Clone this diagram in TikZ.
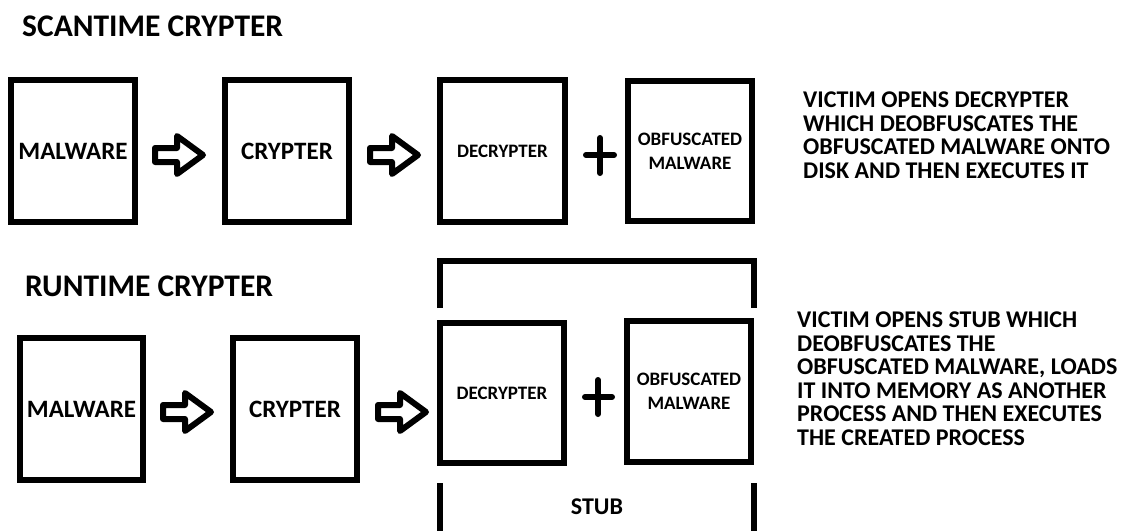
\documentclass[tikz,border=0pt]{standalone}
\usepackage{fontspec}
\setmainfont{Carlito}
\usetikzlibrary{calc}
\begin{document}
\begin{tikzpicture}[x=1pt,y=-1pt,
  box/.style={draw, line width=6pt, inner sep=0pt, font=\bfseries\fontsize{25}{30}\selectfont, align=center},
  smallbox/.style={box, font=\bfseries\fontsize{19}{24}\selectfont},
  title/.style={anchor=north west, inner sep=0pt, font=\bfseries\fontsize{31.5}{36}\selectfont},
  note/.style={anchor=north west, inner sep=0pt, align=left, font=\bfseries\fontsize{24}{23.5}\selectfont},
  heavy/.style={line width=6pt, line cap=round},
  bracket/.style={line width=5.5pt},
  blockarrow/.pic={\draw[line width=6pt, line join=round] (0,-7) -- (22,-7) -- (22,-19) -- (48,0) -- (22,19) -- (22,7) -- (0,7) -- cycle;}
]
\useasboundingbox[fill=white] (0,0) rectangle (1140,531);

% ---- Scantime row ----
\node[title] (t1) at (22,16) {SCANTIME CRYPTER};
\node[box, minimum width=124pt, minimum height=142pt] (m1) at (73,151) {MALWARE};
\node[box, minimum width=124pt, minimum height=142pt] (c1) at (287,151) {CRYPTER};
\node[smallbox, minimum width=125pt, minimum height=142pt] (d1) at (502.5,151) {DECRYPTER};
\node[smallbox, minimum width=124pt, minimum height=140pt] (o1) at (690,151) {OBFUSCATED\\MALWARE};
\pic at (155,155) {blockarrow};
\pic at (370,155) {blockarrow};
\draw[heavy] (586,155) -- (614,155) (600,138) -- (600,173);
\node[note] (n1) at (803,92) {VICTIM OPENS DECRYPTER\\WHICH DEOBFUSCATES THE\\OBFUSCATED MALWARE ONTO\\DISK AND THEN EXECUTES IT};

% ---- Runtime row ----
\node[title] (t2) at (25,276) {RUNTIME CRYPTER};
\node[box, minimum width=123pt, minimum height=142pt] (m2) at (81.5,409) {MALWARE};
\node[box, minimum width=124pt, minimum height=142pt] (c2) at (295,409) {CRYPTER};
\node[smallbox, minimum width=124pt, minimum height=140pt] (d2) at (502,393) {DECRYPTER};
\node[smallbox, minimum width=124pt, minimum height=141pt] (o2) at (689,391.5) {OBFUSCATED\\MALWARE};
\pic at (163,412) {blockarrow};
\pic at (378,412) {blockarrow};
\draw[heavy] (585,397) -- (612,397) (598,380) -- (598,414);
\draw[bracket] (440,308) -- (440,261) -- (754,261) -- (754,308);
\draw[bracket] (440,483) -- (440,531) (754,483) -- (754,531);
\node[font=\bfseries\fontsize{24}{28}\selectfont, inner sep=0pt] (stub) at (597,507) {STUB};
\node[note] (n2) at (797,312) {VICTIM OPENS STUB WHICH\\DEOBFUSCATES THE\\OBFUSCATED MALWARE, LOADS\\IT INTO MEMORY AS ANOTHER\\PROCESS AND THEN EXECUTES\\THE CREATED PROCESS};
\end{tikzpicture}
\end{document}
